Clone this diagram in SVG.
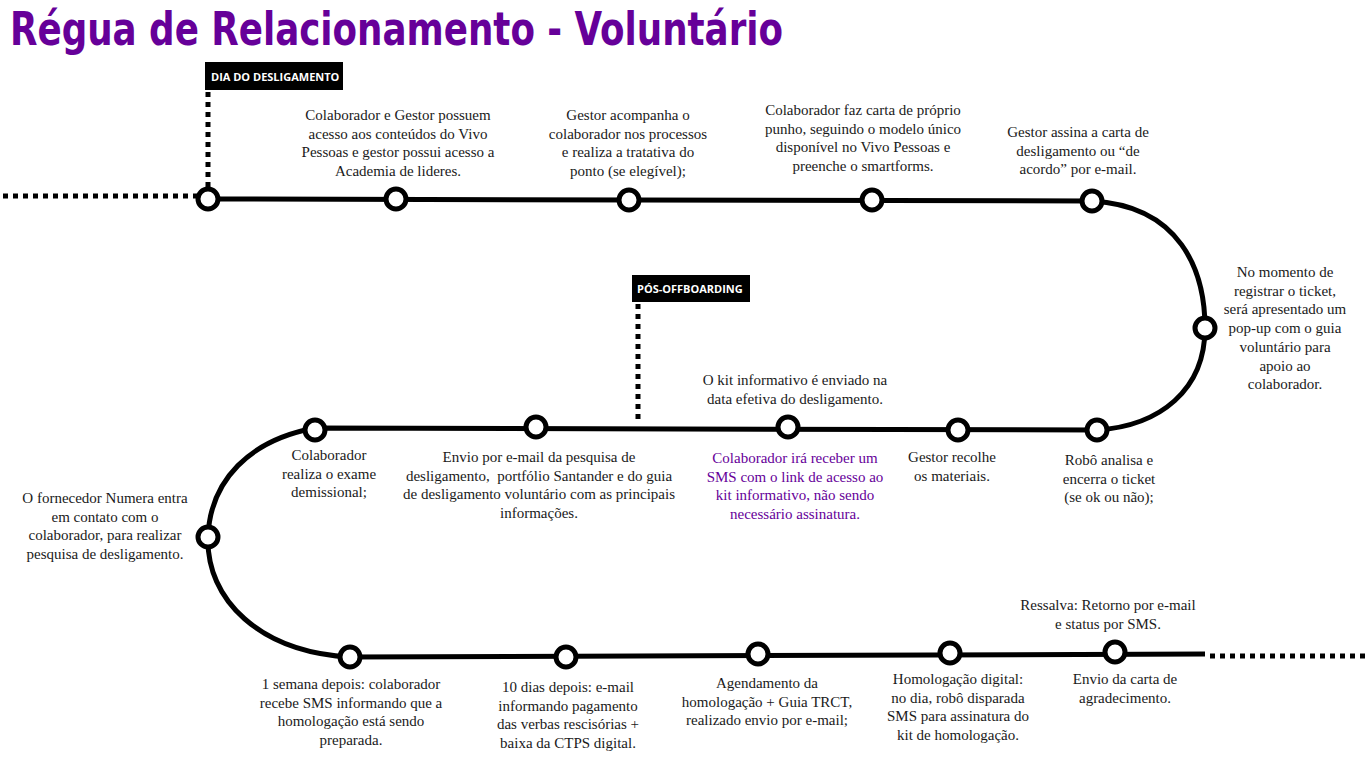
<svg xmlns="http://www.w3.org/2000/svg" width="1366" height="768" viewBox="0 0 1366 768">
<style>
.t{font-family:"Liberation Serif","DejaVu Serif",serif;font-size:15px;fill:#1a1a1a;text-anchor:middle}
.p{fill:#660099}
.line{fill:none;stroke:#000;stroke-width:5}
.dot{fill:none;stroke:#000;stroke-width:5;stroke-dasharray:5 5}
.node{fill:#fff;stroke:#000;stroke-width:5}
.tag{font-family:"Open Sans","DejaVu Sans",sans-serif;font-size:11px;font-weight:bold;fill:#fff}
</style>
<rect width="1366" height="768" fill="#fff"/>
<text x="10" y="45" font-family="DejaVu Sans Condensed,DejaVu Sans,sans-serif" font-weight="bold" font-size="46" fill="#660099" textLength="773" lengthAdjust="spacingAndGlyphs">Régua de Relacionamento - Voluntário</text>
<g id="connectors">
<path class="dot" d="M3,196 H198"/>
<path class="dot" d="M208,92 V188"/>
<path class="dot" d="M638,304 V424"/>
<path class="dot" d="M1210,656 H1366"/>
<path class="line" d="M208,199 L1092,201 C1180,206 1205,270 1205,328 C1205,390 1160,426 1097,430 L315,428 C250,440 210,480 208,537 C206,600 260,652 350,657 L1205,654"/>
</g>
<g id="tag-dia"><rect x="205" y="62" width="138" height="28" fill="#000"/><text class="tag" x="211" y="81">DIA DO DESLIGAMENTO</text></g>
<g id="tag-pos"><rect x="632" y="275" width="118" height="27" fill="#000"/><text class="tag" x="637" y="293">PÓS-OFFBOARDING</text></g>
<g id="n1"><circle class="node" cx="208" cy="199" r="10"/></g>
<g id="n2"><circle class="node" cx="396" cy="199" r="10"/><text class="t" x="398" y="120"><tspan x="398">Colaborador e Gestor possuem</tspan><tspan x="398" dy="18.7">acesso aos conteúdos do Vivo</tspan><tspan x="398" dy="18.7">Pessoas e gestor possui acesso a</tspan><tspan x="398" dy="18.7">Academia de lideres.</tspan></text></g>
<g id="n3"><circle class="node" cx="629" cy="200" r="10"/><text class="t" x="628" y="120"><tspan x="628">Gestor acompanha o</tspan><tspan x="628" dy="18.7">colaborador nos processos</tspan><tspan x="628" dy="18.7">e realiza a tratativa do</tspan><tspan x="628" dy="18.7">ponto (se elegível);</tspan></text></g>
<g id="n4"><circle class="node" cx="872" cy="200" r="10"/><text class="t" x="863" y="115"><tspan x="863">Colaborador faz carta de próprio</tspan><tspan x="863" dy="18.7">punho, seguindo o modelo único</tspan><tspan x="863" dy="18.7">disponível no Vivo Pessoas e</tspan><tspan x="863" dy="18.7">preenche o smartforms.</tspan></text></g>
<g id="n5"><circle class="node" cx="1092" cy="201" r="10"/><text class="t" x="1078" y="137"><tspan x="1078">Gestor assina a carta de</tspan><tspan x="1078" dy="18.7">desligamento ou “de</tspan><tspan x="1078" dy="18.7">acordo” por e-mail.</tspan></text></g>
<g id="n6"><circle class="node" cx="1205" cy="328" r="10"/><text class="t" x="1285" y="277"><tspan x="1285">No momento de</tspan><tspan x="1285" dy="18.7">registrar o ticket,</tspan><tspan x="1285" dy="18.7">será apresentado um</tspan><tspan x="1285" dy="18.7">pop-up com o guia</tspan><tspan x="1285" dy="18.7">voluntário para</tspan><tspan x="1285" dy="18.7">apoio ao</tspan><tspan x="1285" dy="18.7">colaborador.</tspan></text></g>
<g id="n7"><circle class="node" cx="1097" cy="430" r="10"/><text class="t" x="1109" y="465"><tspan x="1109">Robô analisa e</tspan><tspan x="1109" dy="18.7">encerra o ticket</tspan><tspan x="1109" dy="18.7">(se ok ou não);</tspan></text></g>
<g id="n8"><circle class="node" cx="958" cy="430" r="10"/><text class="t" x="952" y="462"><tspan x="952">Gestor recolhe</tspan><tspan x="952" dy="18.7">os materiais.</tspan></text></g>
<g id="n9"><circle class="node" cx="788" cy="427" r="10"/><text class="t" x="795" y="385"><tspan x="795">O kit informativo é enviado na</tspan><tspan x="795" dy="18.7">data efetiva do desligamento.</tspan></text><text class="t p" x="795" y="463"><tspan x="795">Colaborador irá receber um</tspan><tspan x="795" dy="18.7">SMS com o link de acesso ao</tspan><tspan x="795" dy="18.7">kit informativo, não sendo</tspan><tspan x="795" dy="18.7">necessário assinatura.</tspan></text></g>
<g id="n10"><circle class="node" cx="536" cy="427" r="10"/><text class="t" x="539" y="462"><tspan x="539">Envio por e-mail da pesquisa de</tspan><tspan x="539" dy="18.7">desligamento,&#160; portfólio Santander e do guia</tspan><tspan x="539" dy="18.7">de desligamento voluntário com as principais</tspan><tspan x="539" dy="18.7">informações.</tspan></text></g>
<g id="n11"><circle class="node" cx="315" cy="430" r="10"/><text class="t" x="329" y="460"><tspan x="329">Colaborador</tspan><tspan x="329" dy="18.7">realiza o exame</tspan><tspan x="329" dy="18.7">demissional;</tspan></text></g>
<g id="n12"><circle class="node" cx="208" cy="537" r="10"/><text class="t" x="105" y="503"><tspan x="105">O fornecedor Numera entra</tspan><tspan x="105" dy="18.7">em contato com o</tspan><tspan x="105" dy="18.7">colaborador, para realizar</tspan><tspan x="105" dy="18.7">pesquisa de desligamento.</tspan></text></g>
<g id="n13"><circle class="node" cx="350" cy="657" r="10"/><text class="t" x="351" y="689"><tspan x="351">1 semana depois: colaborador</tspan><tspan x="351" dy="18.7">recebe SMS informando que a</tspan><tspan x="351" dy="18.7">homologação está sendo</tspan><tspan x="351" dy="18.7">preparada.</tspan></text></g>
<g id="n14"><circle class="node" cx="566" cy="657" r="10"/><text class="t" x="568" y="692"><tspan x="568">10 dias depois: e-mail</tspan><tspan x="568" dy="18.7">informando pagamento</tspan><tspan x="568" dy="18.7">das verbas rescisórias +</tspan><tspan x="568" dy="18.7">baixa da CTPS digital.</tspan></text></g>
<g id="n15"><circle class="node" cx="758" cy="654" r="10"/><text class="t" x="767" y="688"><tspan x="767">Agendamento da</tspan><tspan x="767" dy="18.7">homologação + Guia TRCT,</tspan><tspan x="767" dy="18.7">realizado envio por e-mail;</tspan></text></g>
<g id="n16"><circle class="node" cx="950" cy="653" r="10"/><text class="t" x="958" y="684"><tspan x="958">Homologação digital:</tspan><tspan x="958" dy="18.7">no dia, robô disparada</tspan><tspan x="958" dy="18.7">SMS para assinatura do</tspan><tspan x="958" dy="18.7">kit de homologação.</tspan></text></g>
<g id="n17"><circle class="node" cx="1115" cy="652" r="10"/><text class="t" x="1108" y="610"><tspan x="1108">Ressalva: Retorno por e-mail</tspan><tspan x="1108" dy="18.7">e status por SMS.</tspan></text><text class="t" x="1125" y="684"><tspan x="1125">Envio da carta de</tspan><tspan x="1125" dy="18.7">agradecimento.</tspan></text></g>
</svg>
